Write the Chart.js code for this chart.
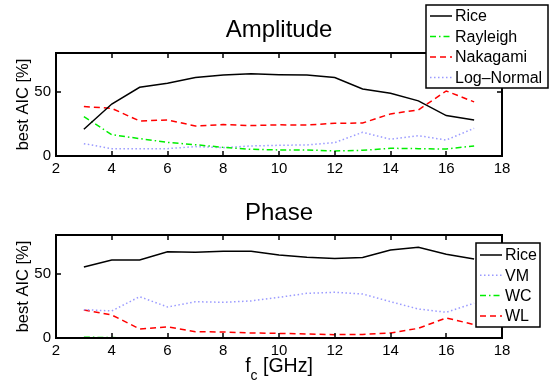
<!DOCTYPE html>
<html>
<head>
<meta charset="utf-8">
<script src="https://cdn.jsdelivr.net/npm/chart.js@4"></script>
<style>
  html, body { margin: 0; padding: 0; background: #fff; }
  #wrap { position: relative; width: 558px; height: 389px; }
  canvas { position: absolute; left: 0; }
</style>
</head>
<body>
<div id="wrap">
  <canvas id="ampChart" width="558" height="195" style="top:0"></canvas>
  <canvas id="phaseChart" width="558" height="194" style="top:195px"></canvas>
</div>
<script>
// carrier frequency [GHz]
const freqGHz = [3, 4, 5, 6, 7, 8, 9, 10, 11, 12, 13, 14, 15, 16, 17];
const xTicks = [2, 4, 6, 8, 10, 12, 14, 16, 18];
const yTicks = [0, 50];

// Amplitude: share of best AIC [%]
const ampRice      = [20.8, 40.4, 53.4, 56.5, 61.0, 63.0, 63.8, 63.2, 63.0, 61.0, 52.0, 48.7, 42.8, 31.4, 28.0];
const ampRayleigh  = [30.6, 16.6, 13.5, 10.6, 8.8, 6.7, 5.2, 4.7, 4.7, 3.9, 4.4, 6.0, 5.7, 5.4, 7.8];
const ampNakagami  = [38.4, 37.0, 27.2, 28.0, 23.3, 24.4, 23.6, 24.2, 24.1, 25.4, 25.6, 32.7, 35.8, 50.5, 42.0];
const ampLogNormal = [9.6, 5.7, 5.7, 5.7, 7.3, 6.5, 7.8, 8.3, 8.6, 10.4, 18.4, 13.0, 15.8, 12.4, 21.5];

// Phase: share of best AIC [%]
const phRice = [55.2, 60.6, 60.6, 66.9, 66.6, 67.4, 67.4, 64.5, 62.7, 61.7, 62.5, 68.4, 70.5, 65.0, 61.4];
const phVM   = [22.0, 21.0, 32.1, 24.1, 28.2, 27.7, 28.8, 31.6, 34.7, 35.5, 34.2, 28.2, 22.5, 20.0, 27.0];
const phWC   = [0.6, 0.3, 0.2, 0.2, 0.2, 0.2, 0.2, 0.2, 0.2, 0.2, 0.2, 0.2, 0.2, 0.2, 0.2];
const phWL   = [21.8, 17.9, 7.0, 8.6, 4.9, 4.7, 3.9, 3.6, 3.1, 2.6, 2.8, 3.9, 7.5, 15.6, 10.4];

const FONT = '"Liberation Sans", Arial, Helvetica, sans-serif';

function pts(vals) {
    return vals.map((v, i) => ({x: freqGHz[i], y: v}));
}

function line(label, vals, color, dash) {
    return {
        label: label,
        data: pts(vals),
        borderColor: color,
        borderWidth: 1.5,
        borderDash: dash,
        pointRadius: 0,
        tension: 0,
        fill: false
    };
}

// draws the matlab style box, inward ticks, titles and the legend box
const matlabAxes = {
    id: 'matlabAxes',
    afterDraw(chart, args, opts) {
        const ctx = chart.ctx;
        const a = chart.chartArea;
        const xs = chart.scales.x, ys = chart.scales.y;
        ctx.save();
        ctx.setLineDash([]);
        ctx.strokeStyle = '#000';
        ctx.lineWidth = 2;
        ctx.strokeRect(Math.round(a.left), Math.round(a.top),
                       Math.round(a.right - a.left), Math.round(a.bottom - a.top));
        ctx.lineWidth = 1.5;
        ctx.beginPath();
        xTicks.forEach(v => {
            const px = Math.round(xs.getPixelForValue(v));
            ctx.moveTo(px, a.bottom); ctx.lineTo(px, a.bottom - 5);
            ctx.moveTo(px, a.top); ctx.lineTo(px, a.top + 5);
        });
        yTicks.forEach(v => {
            const py = Math.round(ys.getPixelForValue(v));
            ctx.moveTo(a.left, py); ctx.lineTo(a.left + 5, py);
            ctx.moveTo(a.right, py); ctx.lineTo(a.right - 5, py);
        });
        ctx.stroke();

        ctx.fillStyle = '#000';
        // title
        ctx.font = '24px ' + FONT;
        ctx.textAlign = 'center';
        ctx.textBaseline = 'alphabetic';
        ctx.fillText(opts.title, 279, opts.titleY);

        // y label
        ctx.save();
        ctx.translate(28, (a.top + a.bottom) / 2);
        ctx.rotate(-Math.PI / 2);
        ctx.font = '16.5px ' + FONT;
        ctx.fillText('best AIC [%]', 0, 0);
        ctx.restore();

        // x label with subscript
        if (opts.xLabel) {
            ctx.textAlign = 'left';
            ctx.font = '19.5px ' + FONT;
            const wf = ctx.measureText('f').width;
            const rest = ' [GHz]';
            const wr = ctx.measureText(rest).width;
            ctx.font = '14px ' + FONT;
            const wc = ctx.measureText('c').width;
            let x0 = 279 - (wf + wc + wr) / 2;
            const by = opts.xLabelY;
            ctx.font = '19.5px ' + FONT;
            ctx.fillText('f', x0, by);
            ctx.font = '14px ' + FONT;
            ctx.fillText('c', x0 + wf, by + 8);
            ctx.font = '19.5px ' + FONT;
            ctx.fillText(rest, x0 + wf + wc, by);
        }

        // legend
        const L = opts.legend;
        ctx.fillStyle = '#fff';
        ctx.fillRect(L.x, L.y, L.w, L.h);
        ctx.strokeStyle = '#000';
        ctx.lineWidth = 1.5;
        ctx.strokeRect(L.x, L.y, L.w, L.h);
        ctx.font = '16px ' + FONT;
        ctx.textAlign = 'left';
        ctx.textBaseline = 'middle';
        L.order.forEach((di, k) => {
            const ds = chart.data.datasets[di];
            const yy = L.y + L.first + k * L.step;
            ctx.strokeStyle = ds.borderColor;
            ctx.lineWidth = 1.5;
            ctx.setLineDash(ds.borderDash || []);
            ctx.beginPath();
            ctx.moveTo(L.x + 4, yy);
            ctx.lineTo(L.x + 26, yy);
            ctx.stroke();
            ctx.setLineDash([]);
            ctx.fillStyle = '#000';
            ctx.fillText(ds.label, L.x + 29, yy + 1);
        });
        ctx.restore();
    }
};

function makeOptions(padTop, xAxisHeight, pluginOpts) {
    return {
        responsive: false,
        animation: false,
        devicePixelRatio: 1,
        layout: { padding: { left: 0, right: 56, top: padTop, bottom: 0 } },
        plugins: {
            legend: { display: false },
            tooltip: { enabled: false },
            matlabAxes: pluginOpts
        },
        scales: {
            x: {
                type: 'linear',
                min: 2, max: 18,
                grid: { display: false, drawTicks: false },
                border: { display: false },
                afterBuildTicks: s => { s.ticks = xTicks.map(v => ({value: v})); },
                afterFit: s => { s.height = xAxisHeight; },
                ticks: { color: '#000', padding: 4, font: { family: FONT, size: 15 }, maxRotation: 0 }
            },
            y: {
                min: 0, max: 80,
                grid: { display: false, drawTicks: false },
                border: { display: false },
                afterBuildTicks: s => { s.ticks = yTicks.map(v => ({value: v})); },
                afterFit: s => { s.width = 56; },
                ticks: { color: '#000', padding: 5, font: { family: FONT, size: 15 } }
            }
        }
    };
}

const RED = '#ff0000', GREEN = '#00ee00', BLUE = '#9a9aff';
const DASH = [6, 4], DASHDOT = [6, 3, 1.5, 3], DOT = [1.5, 2.5];

new Chart(document.getElementById('ampChart').getContext('2d'), {
    type: 'line',
    data: {
        datasets: [
            line('Rice', ampRice, '#000', []),
            line('Rayleigh', ampRayleigh, GREEN, DASHDOT),
            line('Nakagami', ampNakagami, RED, DASH),
            line('Log\u2013Normal', ampLogNormal, BLUE, DOT)
        ]
    },
    options: makeOptions(53, 39, {
        title: 'Amplitude', titleY: 37,
        legend: { x: 426, y: 5, w: 122, h: 83, first: 11, step: 20.5, order: [0, 1, 2, 3] }
    }),
    plugins: [matlabAxes]
});

new Chart(document.getElementById('phaseChart').getContext('2d'), {
    type: 'line',
    data: {
        datasets: [
            line('Rice', phRice, '#000', []),
            line('VM', phVM, BLUE, DOT),
            line('WC', phWC, GREEN, DASHDOT),
            line('WL', phWL, RED, DASH)
        ]
    },
    options: makeOptions(40, 51, {
        title: 'Phase', titleY: 25,
        xLabel: true, xLabelY: 177,
        legend: { x: 476, y: 48, w: 64, h: 84, first: 12, step: 20.3, order: [0, 1, 2, 3] }
    }),
    plugins: [matlabAxes]
});
</script>
</body>
</html>
